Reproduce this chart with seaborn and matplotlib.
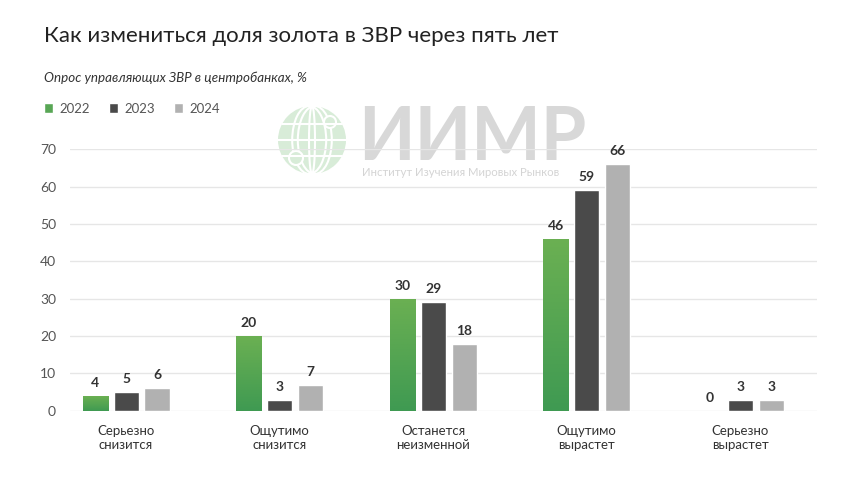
import matplotlib
matplotlib.use("Agg")
import matplotlib.pyplot as plt
import matplotlib.patches as mpatches
from matplotlib.colors import LinearSegmentedColormap
import numpy as np
import pandas as pd
import seaborn as sns

categories = ["Серьезно\nснизится", "Ощутимо\nснизится", "Останется\nнеизменной",
              "Ощутимо\nвырастет", "Серьезно\nвырастет"]
years = ["2022", "2023", "2024"]
values_2022 = [4, 20, 30, 46, 0]
values_2023 = [5, 3, 29, 59, 3]
values_2024 = [6, 7, 18, 66, 3]
y_ticks = [0, 10, 20, 30, 40, 50, 60, 70]

colors = {"2022": "#58a655", "2023": "#4a4a4a", "2024": "#b1b1b1"}

df = pd.DataFrame({
    "category": categories * 3,
    "year": [y for y in years for _ in categories],
    "value": values_2022 + values_2023 + values_2024,
})

sns.set_theme(style="white")
plt.rcParams['font.family'] = ['Lato', 'DejaVu Sans']

fig = plt.figure(figsize=(8.6, 4.84), dpi=100)
ax = fig.add_axes([0.0814, 0.1514, 0.8686, 0.5401])

# watermark
wm = fig.add_axes([0.0, 0.0, 1.0, 1.0], zorder=-1)
wm.set_xlim(0, 860)
wm.set_ylim(484, 0)
wm.axis("off")
globe = mpatches.Circle((312, 140), 34, facecolor="#d8ecd8", edgecolor="none")
wm.add_patch(globe)
for dx in (-14, 0, 14):
    wm.add_patch(mpatches.Ellipse((312 + dx * 0.2, 140), 2 * abs(dx) + 6, 68,
                                  facecolor="none", edgecolor="white", lw=1.5))
for dy in (-16, 0, 16):
    half = np.sqrt(max(34 ** 2 - dy ** 2, 0))
    wm.plot([312 - half, 312 + half], [140 + dy, 140 + dy], color="white", lw=1.5)
wm.add_patch(mpatches.Circle((330, 122), 6, facecolor="#d8ecd8", edgecolor="white", lw=1.5))
wm.add_patch(mpatches.Circle((296, 158), 7, facecolor="#d8ecd8", edgecolor="white", lw=1.5))
wm.text(358, 139, "ИИМР", fontsize=53, fontweight="bold", color="#d8d8d8",
        ha="left", va="center", family=["Lato", "DejaVu Sans"])
wm.text(362, 172, "Институт Изучения Мировых Рынков", fontsize=8.2, color="#d4d4d4",
        ha="left", va="center")

sns.barplot(data=df, x="category", y="value", hue="year", palette=colors,
            width=0.605, gap=0.19, ax=ax, saturation=1, legend=True, zorder=3)

ax.set_ylim(0, 70)
ax.set_xlim(-0.365, 4.5)
ax.set_yticks(y_ticks)
ax.yaxis.grid(True, color="#e6e6e6", lw=1)
ax.set_axisbelow(True)
for s in ax.spines.values():
    s.set_visible(False)
ax.set_xlabel("")
ax.set_ylabel("")
ax.tick_params(axis="y", length=0, labelsize=10, labelcolor="#555555", pad=10)
ax.tick_params(axis="x", length=0, labelsize=9.5, labelcolor="#333333", pad=10)
ax.patch.set_alpha(0)

# gradient on the 2022 (green) bars
grad_cmap = LinearSegmentedColormap.from_list("g", ["#3f9a52", "#6bb052"])
grad = np.linspace(0, 1, 256).reshape(-1, 1)
for p in ax.containers[0].patches:
    h = p.get_height()
    if h <= 0:
        continue
    x0 = p.get_x()
    im = ax.imshow(grad, cmap=grad_cmap, origin="lower", aspect="auto",
                   extent=[x0, x0 + p.get_width(), 0, h], zorder=3.5)
    im.set_clip_path(p)
ax.set_xlim(-0.365, 4.5)
ax.set_ylim(0, 70)

for c in ax.containers:
    ax.bar_label(c, labels=[f"{int(v)}" for v in c.datavalues], padding=5,
                 fontsize=10, fontweight="bold", color="#333333")

leg = ax.legend(loc="upper left", bbox_to_anchor=(0.051, 0.788), bbox_transform=fig.transFigure,
                ncol=3, frameon=False, handlelength=0.7, handleheight=0.7,
                handletextpad=0.5, columnspacing=1.4, fontsize=9.5,
                borderaxespad=0, borderpad=0)
for t in leg.get_texts():
    t.set_color("#555555")

fig.text(0.051, 0.925, "Как измениться доля золота в ЗВР через пять лет", fontsize=16,
         color="#222222", ha="left", va="center")
fig.text(0.051, 0.84, "Опрос управляющих ЗВР в центробанках, %", fontsize=9.6,
         style="italic", color="#333333", ha="left", va="center")

fig.savefig("out.png", dpi=100, facecolor="white")
